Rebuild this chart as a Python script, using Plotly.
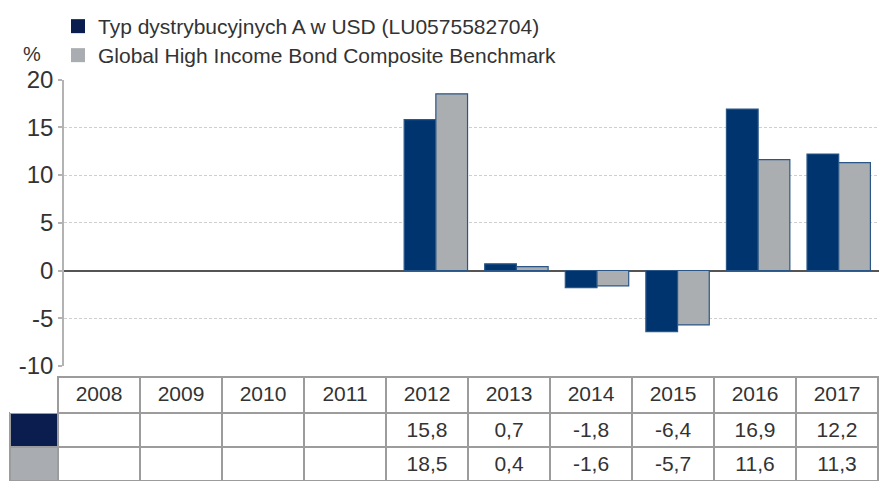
import plotly.graph_objects as go

# ---- data -------------------------------------------------------------
years = ["2008", "2009", "2010", "2011", "2012",
         "2013", "2014", "2015", "2016", "2017"]
fund_name = "Typ dystrybucyjnych A w USD (LU0575582704)"
bench_name = "Global High Income Bond Composite Benchmark"
fund_returns = [None, None, None, None, 15.8, 0.7, -1.8, -6.4, 16.9, 12.2]
bench_returns = [None, None, None, None, 18.5, 0.4, -1.6, -5.7, 11.6, 11.3]
y_ticks = [-10, -5, 0, 5, 10, 15, 20]
unit_label = "%"

# ---- styling ----------------------------------------------------------
W, H = 879, 481
FONT = "Liberation Sans, Arial, Helvetica, sans-serif"
TEXT = "#333333"
BAR_NAVY = "#00346f"
BAR_GREY = "#aaaeb1"
KEY_NAVY = "#0b1d4f"
KEY_GREY = "#a9acb0"
EDGE = "#2a5688"
GRID = "#cfcfcf"
TABLE_LINE = "#9c9c9c"


def fmt(v):
    return "" if v is None else f"{v:.1f}".replace(".", ",")


fig = go.Figure()

# grouped bars
fig.add_trace(go.Bar(x=years, y=fund_returns, name=fund_name,
                     marker=dict(color=BAR_NAVY, line=dict(color=EDGE, width=1.2)),
                     showlegend=False))
fig.add_trace(go.Bar(x=years, y=bench_returns, name=bench_name,
                     marker=dict(color=BAR_GREY, line=dict(color=EDGE, width=1.2)),
                     showlegend=False))

# legend keys, one legend box per series so the rows sit tight together
for name, col, leg in [(fund_name, KEY_NAVY, "legend"), (bench_name, KEY_GREY, "legend2")]:
    fig.add_trace(go.Scatter(x=[None], y=[None], mode="markers", name=name, legend=leg,
                             marker=dict(symbol="square", size=14, color=col)))

# data table under the chart
header_vals = [""] + years
cell_vals = [["", ""]] + [[fmt(a), fmt(b)] for a, b in zip(fund_returns, bench_returns)]
cell_fill = [[KEY_NAVY, KEY_GREY]] + [["white", "white"] for _ in years]
fig.add_trace(go.Table(
    domain=dict(x=[10 / W, 878 / W], y=[0, 104.05 / H]),
    columnwidth=[48] + [82] * len(years),
    header=dict(values=header_vals, height=36, align="center",
                fill=dict(color="white"),
                line=dict(color=["rgba(0,0,0,0)"] + [TABLE_LINE] * len(years), width=1.5),
                font=dict(family=FONT, size=21, color=TEXT)),
    cells=dict(values=cell_vals, height=34, align="center",
               fill=dict(color=cell_fill),
               line=dict(color=TABLE_LINE, width=1.5),
               font=dict(family=FONT, size=21, color=TEXT)),
))

legend_style = dict(xanchor="left", yanchor="top", bgcolor="rgba(0,0,0,0)",
                    font=dict(family=FONT, size=21, color=TEXT))

fig.update_layout(
    template="none",
    width=W, height=H,
    margin=dict(l=0, r=0, t=0, b=0, pad=0, autoexpand=False),
    paper_bgcolor="white", plot_bgcolor="white",
    font=dict(family=FONT, color=TEXT),
    barmode="group", bargap=0.213, bargroupgap=0,
    showlegend=True,
    legend=dict(x=58 / W, y=1 - 6 / H, **legend_style),
    legend2=dict(x=58 / W, y=1 - 35 / H, **legend_style),
    xaxis=dict(domain=[64 / W, 1], type="category", range=[-0.615, 9.5],
               showticklabels=False, showgrid=False, ticks="", showline=False,
               zeroline=False, automargin=False),
    yaxis=dict(domain=[1 - 366 / H, 1 - 79.5 / H], range=[-10, 20],
               tickvals=y_ticks, ticktext=[str(t) for t in y_ticks],
               tickfont=dict(family=FONT, size=24, color=TEXT),
               ticks="outside", ticklen=4, tickcolor="#b3b3b3", tickwidth=1.5,
               ticklabelstandoff=0, automargin=False,
               showline=True, linecolor="#b3b3b3", linewidth=1.5,
               showgrid=True, gridcolor=GRID, gridwidth=1, griddash="3px,2px",
               zeroline=True, zerolinecolor="#555555", zerolinewidth=1.5),
    annotations=[dict(text=unit_label, x=32 / W, y=1 - 54 / H, xref="paper", yref="paper",
                      xanchor="center", yanchor="middle", showarrow=False,
                      font=dict(family=FONT, size=20, color=TEXT))],
)

fig.write_html("out.html")
